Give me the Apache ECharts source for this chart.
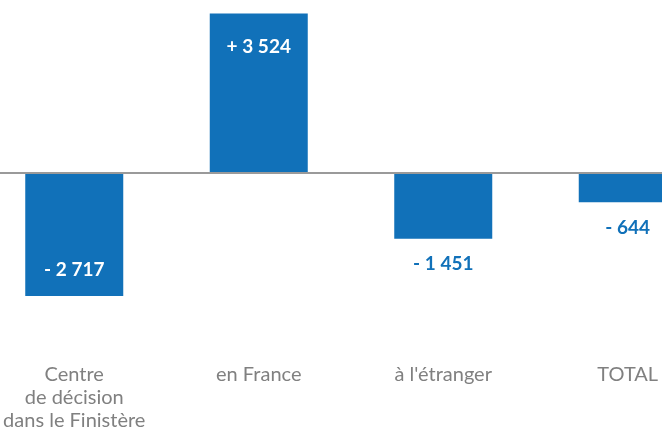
<!DOCTYPE html>
<html>
<head>
<meta charset="utf-8">
<script src="https://cdn.jsdelivr.net/npm/echarts@6/dist/echarts.min.js"></script>
<style>
  html, body { margin: 0; padding: 0; background: #fff; }
  #chart { width: 662px; height: 432px; }
</style>
</head>
<body>
<div id="chart"></div>
<script>
// categories and values
var categories = ["Centre\nde décision\ndans le Finistère", "en France", "à l'étranger", "TOTAL"];
var values = [-2717, 3524, -1451, -644];
// where each value label sits
var labelPos = ["insideBottom", "insideTop", "bottom", "bottom"];

var blue = "#1171b9";

function fmt(v) {
  var s = String(Math.abs(v)).replace(/\B(?=(\d{3})+(?!\d))/g, " ");
  return (v < 0 ? "- " : "+ ") + s;
}

var myChart = echarts.init(document.getElementById("chart"));
myChart.setOption({
  animation: false,
  grid: { left: -18, top: -8, width: 738, height: 362, outerBoundsMode: "none" },
  xAxis: {
    type: "category",
    data: categories,
    axisLine: { show: false, onZero: false },
    axisTick: { show: false },
    axisLabel: {
      interval: 0,
      margin: 9,
      color: "#808080",
      fontFamily: "Lato",
      fontSize: 20,
      lineHeight: 23,
      verticalAlign: "top"
    }
  },
  yAxis: {
    type: "value",
    min: -4000,
    max: 4000,
    show: false,
    splitLine: { show: false }
  },
  series: [
    {
      type: "bar",
      barWidth: 98,
      itemStyle: { color: blue },
      data: values.map(function (v, i) {
        var inside = labelPos[i].indexOf("inside") === 0;
        return {
          value: v,
          label: {
            show: true,
            position: labelPos[i],
            distance: inside ? (i === 0 ? 17 : 24) : 16,
            color: inside ? "#fff" : blue,
            fontFamily: "Lato",
            fontWeight: "bold",
            fontSize: 19,
            formatter: function () { return fmt(v); }
          }
        };
      }),
      markLine: {
        silent: true,
        symbol: "none",
        label: { show: false },
        lineStyle: { color: "#9a9a9a", width: 2, type: "solid" },
        data: [{ yAxis: 0 }]
      }
    }
  ]
});
</script>
</body>
</html>
